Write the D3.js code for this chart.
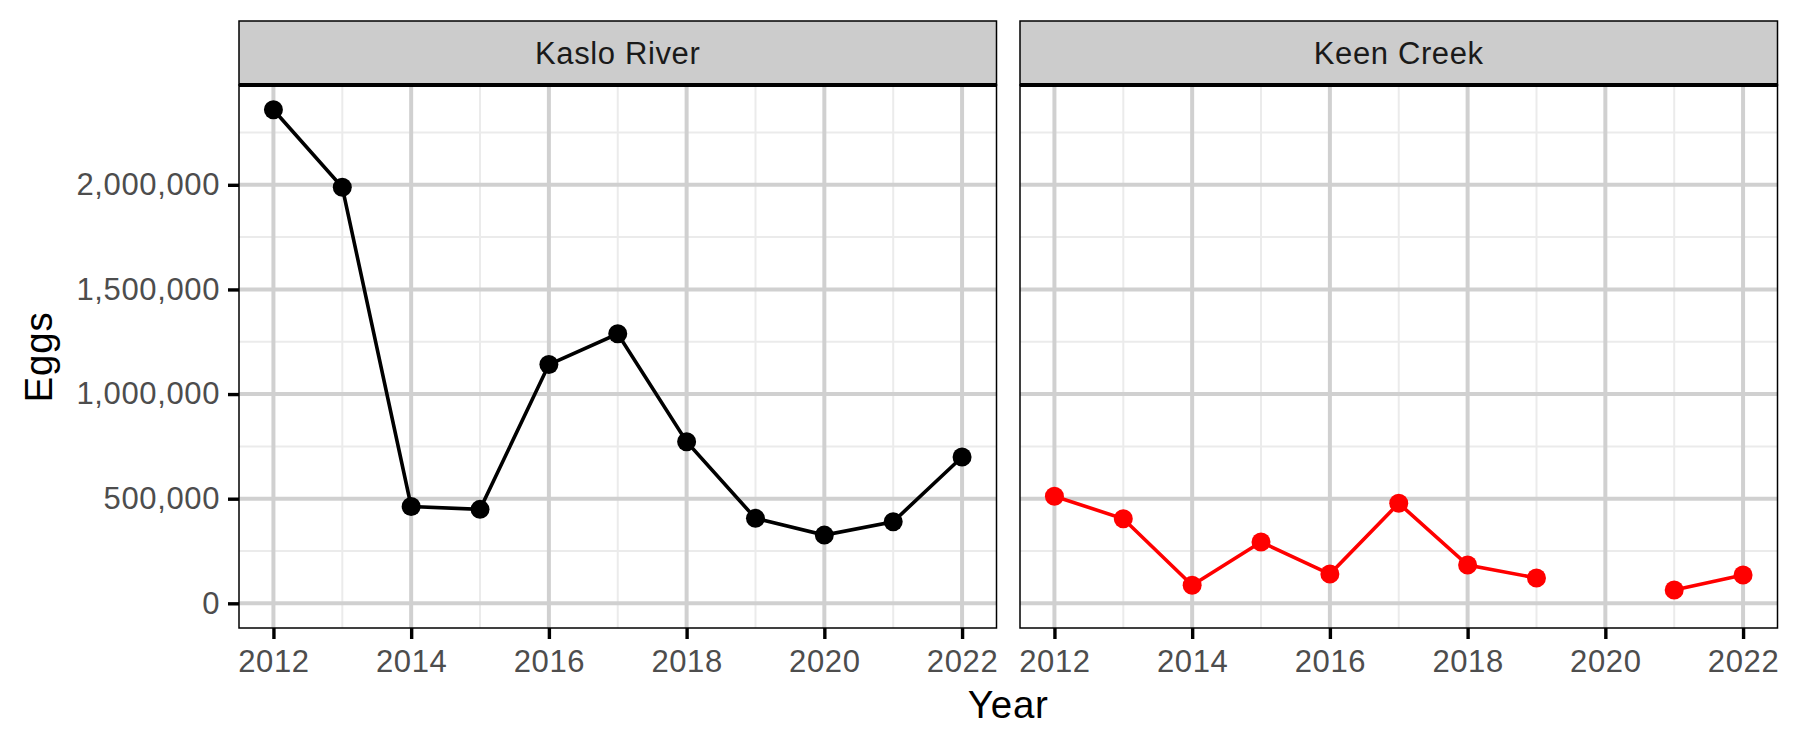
<!DOCTYPE html>
<html>
<head>
<meta charset="utf-8">
<script src="https://cdn.jsdelivr.net/npm/d3@7"></script>
<style>
  body { margin: 0; background: #fff; }
  text { font-family: "Liberation Sans", Arial, Helvetica, sans-serif; letter-spacing: 0.02em; }
</style>
</head>
<body>
<svg id="chart" width="1800" height="750"></svg>
<script>
// data
var years = [2012, 2013, 2014, 2015, 2016, 2017, 2018, 2019, 2020, 2021, 2022];
var kasloEggs = [2359000, 1988000, 463000, 449000, 1141000, 1288000, 772000, 406000, 326000, 390000, 699000];
// no Keen Creek value for 2020
var keenEggs = [512000, 404000, 86000, 293000, 140000, 478000, 183000, 121000, null, 64000, 135000];
var sites = ["Kaslo River", "Keen Creek"];
var siteColors = ["#000000", "#FF0000"];
var xTicks = [2012, 2014, 2016, 2018, 2020, 2022];
var yTicks = [0, 500000, 1000000, 1500000, 2000000];

var series = [kasloEggs, keenEggs];

var svg = d3.select("#chart");

// panel geometry
var panelLeft = [239, 1020];
var panelW = 757.5;
var stripTop = 21, stripBottom = 85, panelBottom = 628;

// x: data range expanded by 5%
var x = d3.scaleLinear().domain([2011.5, 2022.5]);
// y: includes 0, expanded by 5%
var yMax = d3.max(kasloEggs.concat(keenEggs));
var pad = yMax * 0.05;
var y = d3.scaleLinear().domain([-pad, yMax + pad]).range([panelBottom, stripBottom]);

var fmt = d3.format(",");

sites.forEach(function(site, i) {
  var left = panelLeft[i];
  x.range([left, left + panelW]);
  var g = svg.append("g");

  // minor grid
  var minorX = d3.range(2013, 2022, 2);
  var minorY = [250000, 750000, 1250000, 1750000, 2250000];
  g.selectAll(".mx").data(minorX).enter().append("line")
    .attr("x1", d => x(d)).attr("x2", d => x(d))
    .attr("y1", stripBottom).attr("y2", panelBottom)
    .attr("stroke", "#EBEBEB").attr("stroke-width", 2);
  g.selectAll(".my").data(minorY).enter().append("line")
    .attr("x1", left).attr("x2", left + panelW)
    .attr("y1", d => y(d)).attr("y2", d => y(d))
    .attr("stroke", "#EBEBEB").attr("stroke-width", 2);

  // major grid
  g.selectAll(".gx").data(xTicks).enter().append("line")
    .attr("x1", d => x(d)).attr("x2", d => x(d))
    .attr("y1", stripBottom).attr("y2", panelBottom)
    .attr("stroke", "#D0D0D0").attr("stroke-width", 4);
  g.selectAll(".gy").data(yTicks).enter().append("line")
    .attr("x1", left).attr("x2", left + panelW)
    .attr("y1", d => y(d)).attr("y2", d => y(d))
    .attr("stroke", "#D0D0D0").attr("stroke-width", 4);

  // line, split at missing values
  var line = d3.line()
    .defined(d => d.v != null)
    .x(d => x(d.yr))
    .y(d => y(d.v));
  var pts = years.map((yr, j) => ({yr: yr, v: series[i][j]}));
  g.append("path").datum(pts)
    .attr("d", line)
    .attr("fill", "none")
    .attr("stroke", siteColors[i])
    .attr("stroke-width", 3.6);

  g.selectAll(".pt").data(pts.filter(d => d.v != null)).enter().append("circle")
    .attr("cx", d => x(d.yr)).attr("cy", d => y(d.v))
    .attr("r", 9.5)
    .attr("fill", siteColors[i]);

  // panel border
  g.append("rect")
    .attr("x", left).attr("y", stripBottom)
    .attr("width", panelW).attr("height", panelBottom - stripBottom)
    .attr("fill", "none").attr("stroke", "#000").attr("stroke-width", 1.5);

  // strip
  g.append("rect")
    .attr("x", left).attr("y", stripTop)
    .attr("width", panelW).attr("height", stripBottom - stripTop)
    .attr("fill", "#CCCCCC").attr("stroke", "#000").attr("stroke-width", 1.5);
  g.append("line")
    .attr("x1", left).attr("x2", left + panelW)
    .attr("y1", stripBottom).attr("y2", stripBottom)
    .attr("stroke", "#000").attr("stroke-width", 4);
  g.append("text")
    .attr("x", left + panelW / 2).attr("y", (stripTop + stripBottom) / 2)
    .attr("dy", "0.36em")
    .attr("text-anchor", "middle")
    .attr("font-size", 31)
    .attr("fill", "#1A1A1A")
    .text(site);

  // x axis
  var xAxis = g.append("g").attr("transform", "translate(0," + panelBottom + ")")
    .call(d3.axisBottom(x).tickValues(xTicks).tickFormat(d3.format("d")).tickSize(11).tickPadding(11));
  xAxis.select(".domain").remove();
  xAxis.selectAll(".tick line").attr("stroke", "#000").attr("stroke-width", 3.4);
  xAxis.selectAll(".tick text").attr("font-size", 31).attr("fill", "#4D4D4D")
    .style("font-family", "Liberation Sans, Arial, sans-serif");

  // y axis on first panel only
  if (i == 0) {
    var yAxis = g.append("g").attr("transform", "translate(" + left + ",0)")
      .call(d3.axisLeft(y).tickValues(yTicks).tickFormat(fmt).tickSize(11).tickPadding(8));
    yAxis.select(".domain").remove();
    yAxis.selectAll(".tick line").attr("stroke", "#000").attr("stroke-width", 3.4);
    yAxis.selectAll(".tick text").attr("font-size", 31).attr("fill", "#4D4D4D")
      .style("font-family", "Liberation Sans, Arial, sans-serif");
  }
});

// axis titles
svg.append("text")
  .attr("x", (panelLeft[0] + panelLeft[1] + panelW) / 2).attr("y", 718)
  .attr("text-anchor", "middle")
  .attr("font-size", 38.5)
  .text("Year");

svg.append("text")
  .attr("transform", "translate(52,357) rotate(-90)")
  .attr("text-anchor", "middle")
  .attr("font-size", 38.5)
  .text("Eggs");
</script>
</body>
</html>
